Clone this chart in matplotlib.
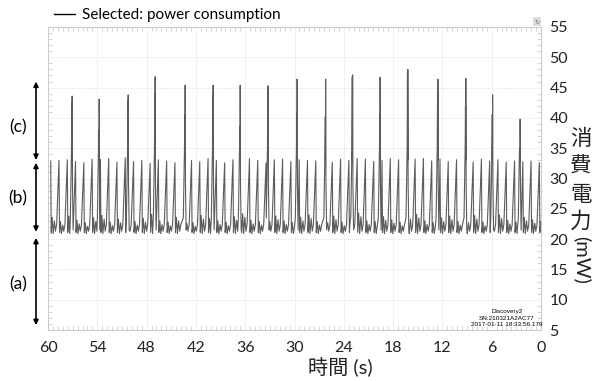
import matplotlib
matplotlib.use('Agg')
import matplotlib.pyplot as plt
from matplotlib.ticker import MultipleLocator
from matplotlib.patches import Rectangle

plt.rcParams['font.family'] = ['Lato', 'Noto Sans CJK JP', 'DejaVu Sans']

# regular ~1 s peaks (time in s, power in mW)
peak_times = [59.67, 58.66, 57.65, 56.65, 55.64, 54.63, 53.62, 52.61, 51.61, 50.60,
              49.59, 48.58, 47.57, 46.57, 45.56, 44.55, 43.54, 42.53, 41.53, 40.52,
              39.51, 38.50, 37.49, 36.49, 35.48, 34.47, 33.46, 32.45, 31.45, 30.44,
              29.43, 28.42, 27.41, 26.41, 25.40, 24.39, 23.38, 22.37, 21.37, 20.36,
              19.35, 18.34, 17.33, 16.33, 15.32, 14.31, 13.30, 12.29, 11.29, 10.28,
              9.27, 8.26, 7.25, 6.25, 5.24, 4.23, 3.22, 2.21, 1.21, 0.20]
peak_values = [32.8, 33.0, 33.1, 32.8, 32.6, 33.2, 33.1, 33.3, 32.7, 33.4,
               32.8, 33.0, 32.5, 33.1, 32.9, 32.6, 33.2, 33.0, 32.8, 33.3,
               33.0, 32.6, 33.1, 32.9, 33.3, 33.0, 32.6, 33.1, 33.2, 32.8,
               33.1, 33.0, 32.9, 33.3, 32.7, 33.2, 33.0, 33.3, 33.2, 32.8,
               33.0, 33.3, 33.1, 32.8, 33.2, 33.3, 32.9, 33.2, 32.8, 33.1,
               33.0, 32.7, 33.2, 32.9, 33.1, 32.7, 32.9, 32.8, 32.9, 32.6]
bump_values = [23.6, 22.9, 23.8, 23.1, 22.7, 23.5, 23.9, 22.8, 23.3, 23.7,
               22.9, 23.4, 24.1, 23.0, 22.8, 23.6, 23.2, 22.7, 23.9, 23.4,
               23.0, 22.8, 23.7, 24.2, 23.1, 22.9, 23.5, 23.8, 23.0, 22.7,
               23.6, 24.0, 22.9, 23.3, 23.8, 22.8, 23.4, 24.3, 23.0, 22.9,
               23.7, 23.2, 22.8, 23.9, 24.1, 23.0, 22.7, 23.5, 23.8, 22.9,
               23.3, 23.9, 22.8, 23.4, 24.0, 23.1, 22.8, 23.6, 23.2, 22.9]
baseline = 21.1

# tall spikes (segment c)
spike_times = [57.08, 53.79, 50.26, 46.98, 43.33, 39.92, 36.63, 33.23, 29.70,
               26.23, 22.95, 19.60, 16.23, 12.57, 9.17, 5.91, 2.56]
spike_values = [43.6, 43.1, 43.8, 46.8, 45.4, 45.4, 45.4, 45.3, 46.4,
                46.4, 47.1, 46.7, 48.0, 46.4, 46.5, 43.8, 39.8]
spike_second = [42.5, 38.0, 42.8, 44.0, 40.5, 43.8, 38.5, 44.7, 41.0,
                40.2, 46.8, 40.5, 47.4, 44.2, 42.0, 40.6, 35.0]

# bracket annotations (a)-(c)
seg_labels = ['(c)', '(b)', '(a)']
seg_top = [46.0, 32.6, 20.2]
seg_bottom = [33.05, 21.2, 5.8]
seg_label_y = [38.5, 26.8, 12.6]

# build the trace
pts = []
for p, v, b in zip(peak_times, peak_values, bump_values):
    pts += [(p, v), (p - 0.06, baseline), (p - 0.18, b), (p - 0.30, baseline - 0.2),
            (p - 0.45, b - 0.6), (p - 0.58, baseline + 0.2), (p - 0.72, 22.4)]
for s, h, h2 in zip(spike_times, spike_values, spike_second):
    pts = [q for q in pts if not (s - 0.16 < q[0] < s + 0.22)]
    pts += [(s + 0.2, 23.5), (s + 0.06, 35.0), (s + 0.02, h2), (s, 33.0),
            (s - 0.02, h), (s - 0.06, 29.0), (s - 0.14, 21.5)]
pts.sort(key=lambda q: -q[0])
t = [q[0] for q in pts]
y = [q[1] for q in pts]

fig = plt.figure(figsize=(5.93, 3.81), dpi=100)
ax = fig.add_axes([48 / 593, 1 - 330 / 381, 493 / 593, 303 / 381])

ax.plot(t, y, color='#5c5c5c', lw=0.8, label='Selected: power consumption')
ax.set_xlim(60, 0)
ax.set_ylim(5, 55)
ax.xaxis.set_major_locator(MultipleLocator(6))
ax.xaxis.set_minor_locator(MultipleLocator(0.6))
ax.yaxis.set_major_locator(MultipleLocator(5))
ax.yaxis.set_minor_locator(MultipleLocator(1))
ax.yaxis.tick_right()
ax.grid(True, which='major', color='#e4e4e4', lw=0.7, ls=(0, (1, 1)))
ax.tick_params(which='major', length=0, labelsize=11.5, colors='#222222')
ax.tick_params(axis='x', which='major', pad=8)
ax.tick_params(axis='y', which='major', pad=6)
ax.tick_params(which='minor', direction='in', length=3, color='#cfcfcf',
               top=True, bottom=True, left=True, right=True)
for sp in ax.spines.values():
    sp.set_color('#cccccc')
    sp.set_linewidth(0.8)

leg = ax.legend(loc='center left', bbox_to_anchor=(54 / 593, 1 - 15 / 381),
                bbox_transform=fig.transFigure, frameon=False, fontsize=11,
                handlelength=1.4, handletextpad=0.45, borderpad=0, borderaxespad=0)
leg.get_lines()[0].set_color('black')
leg.get_lines()[0].set_linewidth(1.0)

# axis labels
fig.text(340 / 593, 1 - 367 / 381, '時間 (s)', ha='center', va='center', fontsize=14.5,
         color='#222222')
for ch, yy in zip('消費電力', [139, 167, 195, 222]):
    fig.text(581 / 593, 1 - yy / 381, ch, ha='center', va='center', fontsize=15.5,
             family=['Noto Sans CJK JP'], color='#222222')
fig.text(582 / 593, 1 - 260 / 381, '(mW)', ha='center', va='center', fontsize=14.5,
         rotation=-90, color='#222222')

# segment brackets
for lab, top, bot, ly in zip(seg_labels, seg_top, seg_bottom, seg_label_y):
    ax.annotate('', xy=(36 / 593, top), xytext=(36 / 593, bot),
                xycoords=('figure fraction', 'data'), textcoords=('figure fraction', 'data'),
                arrowprops=dict(arrowstyle='<|-|>', color='black', lw=1.2,
                                mutation_scale=7, shrinkA=0, shrinkB=0),
                annotation_clip=False)
    ax.annotate(lab, xy=(18 / 593, ly), xycoords=('figure fraction', 'data'),
                ha='center', va='center', fontsize=12.5, annotation_clip=False)

# device stamp
stamp = ['Discovery2', 'SN:210321A2AC77', '2017-01-11 18:33:56.179']
for line, yy in zip(stamp, [312, 318, 324]):
    fig.text(507 / 593, 1 - yy / 381, line, ha='center', va='center', fontsize=4.6,
             family=['Liberation Sans'])

fig.patches.append(Rectangle((533 / 593, 1 - 26 / 381), 8 / 593, 9 / 381,
                             transform=fig.transFigure, facecolor='#dcdcdc',
                             edgecolor='none'))
fig.text(537 / 593, 1 - 21.5 / 381, '↻', ha='center', va='center', fontsize=4.5,
         color='#777777', family=['DejaVu Sans'])

fig.savefig('out.png', dpi=100)
